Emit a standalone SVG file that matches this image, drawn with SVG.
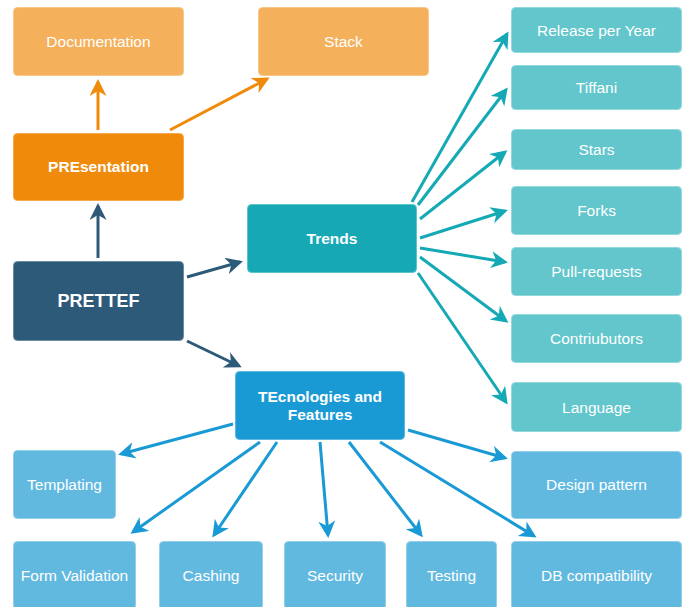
<svg xmlns="http://www.w3.org/2000/svg" width="686" height="607" viewBox="0 0 686 607">
<defs>
<style>
text{font-family:"Liberation Sans",Arial,Helvetica,sans-serif;fill:#ffffff;text-anchor:middle;font-size:15.5px}
.b{font-weight:bold}
rect{stroke-width:1}
.lo{fill:#f5b05b;stroke:#f8c78a}
.or{fill:#f08a0a;stroke:#f4a94c}
.dk{fill:#2e5a7a;stroke:#6d8ba1}
.tr{fill:#16a9b5;stroke:#5cc5cc}
.lt{fill:#62c6cc;stroke:#93d8dc}
.te{fill:#1a9ad4;stroke:#5cb7e2}
.lb{fill:#62b9e0;stroke:#93cfea}
.c{fill:none;stroke-width:3}
.co{stroke:#f08a0a}
.cd{stroke:#2e5a7a}
.ct{stroke:#14a9b5}
.cb{stroke:#1a9ad4}
</style>
<marker id="ao" markerUnits="userSpaceOnUse" markerWidth="18" markerHeight="18" refX="14" refY="8.5" orient="auto"><path d="M0,0 L17,8.5 L0,17 L5,8.5 Z" fill="#f08a0a"/></marker>
<marker id="ad" markerUnits="userSpaceOnUse" markerWidth="18" markerHeight="18" refX="14" refY="8.5" orient="auto"><path d="M0,0 L17,8.5 L0,17 L5,8.5 Z" fill="#2e5a7a"/></marker>
<marker id="at" markerUnits="userSpaceOnUse" markerWidth="18" markerHeight="18" refX="14" refY="8.5" orient="auto"><path d="M0,0 L17,8.5 L0,17 L5,8.5 Z" fill="#14a9b5"/></marker>
<marker id="ab" markerUnits="userSpaceOnUse" markerWidth="18" markerHeight="18" refX="14" refY="8.5" orient="auto"><path d="M0,0 L17,8.5 L0,17 L5,8.5 Z" fill="#1a9ad4"/></marker>
</defs>
<rect width="686" height="607" fill="#ffffff"/>
<g id="connectors">
<path class="c co" marker-end="url(#ao)" d="M98,130 L98,82"/>
<path class="c co" marker-end="url(#ao)" d="M170,130 L267,79"/>
<path class="c cd" marker-end="url(#ad)" d="M98,258 L98,206"/>
<path class="c cd" marker-end="url(#ad)" d="M187,277 L240,262"/>
<path class="c cd" marker-end="url(#ad)" d="M187,341 L239,366"/>
<path class="c ct" marker-end="url(#at)" d="M412,202 L507,34"/>
<path class="c ct" marker-end="url(#at)" d="M418,205 L506,90"/>
<path class="c ct" marker-end="url(#at)" d="M420,219 L505,152"/>
<path class="c ct" marker-end="url(#at)" d="M420,238 L505,211"/>
<path class="c ct" marker-end="url(#at)" d="M420,248 L505,262"/>
<path class="c ct" marker-end="url(#at)" d="M420,257 L506,321"/>
<path class="c ct" marker-end="url(#at)" d="M418,273 L506,402"/>
<path class="c cb" marker-end="url(#ab)" d="M233,424 L121,454"/>
<path class="c cb" marker-end="url(#ab)" d="M260,442 L133,532"/>
<path class="c cb" marker-end="url(#ab)" d="M277,442 L214,535"/>
<path class="c cb" marker-end="url(#ab)" d="M320,442 L328,535"/>
<path class="c cb" marker-end="url(#ab)" d="M349,442 L421,535"/>
<path class="c cb" marker-end="url(#ab)" d="M380,442 L534,536"/>
<path class="c cb" marker-end="url(#ab)" d="M408,430 L505,458"/>
</g>
<g id="documentation"><rect class="lo" x="13.5" y="7.5" width="170" height="68" rx="4"/><text x="98.5" y="47">Documentation</text></g>
<g id="stack"><rect class="lo" x="258.5" y="7.5" width="170" height="68" rx="4"/><text x="343.5" y="47">Stack</text></g>
<g id="presentation"><rect class="or" x="13.5" y="133.5" width="170" height="67" rx="4"/><text class="b" x="98.5" y="172">PREsentation</text></g>
<g id="prettef"><rect class="dk" x="13.5" y="261.5" width="170" height="79" rx="4"/><text class="b" x="98.5" y="306.5" style="font-size:18px">PRETTEF</text></g>
<g id="trends"><rect class="tr" x="247.5" y="204.5" width="169" height="68" rx="4"/><text class="b" x="332" y="243.5">Trends</text></g>
<g id="tecnologies"><rect class="te" x="235.5" y="371.5" width="169" height="68" rx="4"/><text class="b" x="320" y="401.5">TEcnologies and</text><text class="b" x="320" y="419.5">Features</text></g>
<g id="release"><rect class="lt" x="511.5" y="7.5" width="170" height="45" rx="4"/><text x="596.5" y="35.5">Release per Year</text></g>
<g id="tiffani"><rect class="lt" x="511.5" y="65.5" width="170" height="44" rx="4"/><text x="596.5" y="92.5">Tiffani</text></g>
<g id="stars"><rect class="lt" x="511.5" y="129.5" width="170" height="40" rx="4"/><text x="596.5" y="154.5">Stars</text></g>
<g id="forks"><rect class="lt" x="511.5" y="186.5" width="170" height="48" rx="4"/><text x="596.5" y="215.5">Forks</text></g>
<g id="pullrequests"><rect class="lt" x="511.5" y="247.5" width="170" height="48" rx="4"/><text x="596.5" y="276.5">Pull-requests</text></g>
<g id="contributors"><rect class="lt" x="511.5" y="314.5" width="170" height="48" rx="4"/><text x="596.5" y="344">Contriubutors</text></g>
<g id="language"><rect class="lt" x="511.5" y="382.5" width="170" height="49" rx="4"/><text x="596.5" y="412.5">Language</text></g>
<g id="designpattern"><rect class="lb" x="511.5" y="451.5" width="170" height="67" rx="4"/><text x="596.5" y="490">Design pattern</text></g>
<g id="dbcompat"><rect class="lb" x="511.5" y="541.5" width="170" height="68" rx="4"/><text x="596.5" y="580.5">DB compatibility</text></g>
<g id="templating"><rect class="lb" x="13.5" y="450.5" width="102" height="68" rx="4"/><text x="64.5" y="490">Templating</text></g>
<g id="formvalidation"><rect class="lb" x="13.5" y="541.5" width="122" height="68" rx="4"/><text x="74.5" y="580.5">Form Validation</text></g>
<g id="cashing"><rect class="lb" x="159.5" y="541.5" width="103" height="68" rx="4"/><text x="211" y="580.5">Cashing</text></g>
<g id="security"><rect class="lb" x="284.5" y="541.5" width="101" height="68" rx="4"/><text x="335" y="580.5">Security</text></g>
<g id="testing"><rect class="lb" x="406.5" y="541.5" width="90" height="68" rx="4"/><text x="451.5" y="580.5">Testing</text></g>
</svg>
